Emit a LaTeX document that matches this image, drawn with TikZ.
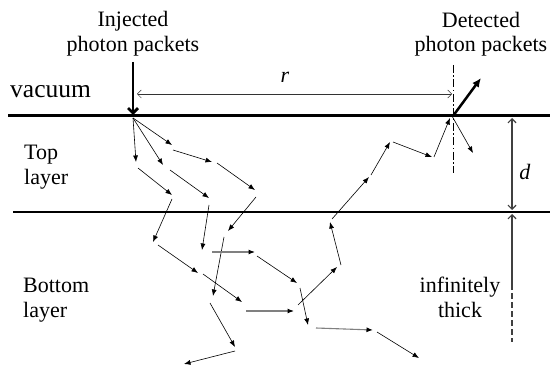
\documentclass[tikz,border=0pt]{standalone}
\usepackage{fontspec}
\setmainfont{Liberation Serif}
\usetikzlibrary{arrows.meta}
\begin{document}
\begin{tikzpicture}[x=1pt,y=-1pt,
  font=\fontsize{22}{25}\selectfont,
  ph/.style={line width=0.6pt, -{Latex[length=6.5pt,width=5pt]}},
  phg/.style={line width=1.1pt, draw=black!50, -{Latex[length=6.5pt,width=5pt,color=black]}},
  lbl/.style={inner sep=0pt, anchor=base},
  barb/.tip={Straight Barb[length=4pt,width=8pt]}]
\useasboundingbox (0,0) rectangle (550,369);

% surfaces
\draw[line width=3pt] (8,116) -- (550,116);
\draw[line width=1.2pt] (13,212) -- (550,212);

% labels
\node[lbl] (inj1) at (133,27) {Injected};
\node[lbl] (inj2) at (133,52) {photon packets};
\node[lbl] (det1) at (481,28) {Detected};
\node[lbl] (det2) at (481,52) {photon packets};
\node[lbl, anchor=base west, font=\fontsize{25.5}{28}\selectfont] (vac) at (10,98) {vacuum};
\node[lbl, anchor=base west] (top1) at (24,160) {Top};
\node[lbl, anchor=base west] (top2) at (24,185) {layer};
\node[lbl, anchor=base west] (bot1) at (23,292) {Bottom};
\node[lbl, anchor=base west] (bot2) at (23,317) {layer};
\node[lbl] (inf1) at (460,292) {infinitely};
\node[lbl] (inf2) at (460,317) {thick};
\node[lbl] (rl) at (285,83) {\textit{r}};
\node[lbl] (dl) at (525,179) {\textit{d}};

% injection and detection
\draw[line width=2.8pt, -{Straight Barb[length=5pt,width=10pt]}] (133,62) -- (133,115);
\draw[line width=2.5pt, -{Latex[length=9pt,width=8pt]}] (453,116) -- (481,78);
\draw[line width=1pt, dash pattern=on 8pt off 2.5pt on 1.5pt off 2.5pt] (453,65) -- (453,173);

% r and d
\draw[line width=0.5pt, draw=black!80, barb-barb] (137,94) -- (452,94);
\draw[line width=1.2pt, draw=black!75, barb-barb] (512,118) -- (512,210);
\draw[line width=1.2pt, draw=black!75, barb-] (512,214) -- (512,290);
\draw[line width=1.2pt, draw=black!75, dash pattern=on 6pt off 3pt] (512,293) -- (512,342);

% photon paths
\foreach \a/\b in {
  {133,118}/{136,162}, {133,118}/{163,165}, {133,118}/{172,145},
  {173,150}/{212,162}, {217,163}/{255,190}, {138,168}/{172,195},
  {170,170}/{209,198}, {172,199}/{153,242}, {209,205}/{202,250},
  {256,197}/{228,231}, {158,245}/{198,273}, {257,256}/{297,283},
  {224,237}/{213,296}, {203,274}/{242,302}, {210,303}/{235,347},
  {235,351}/{184,364}, {300,288}/{308,325}, {377,332}/{419,358},
  {298,305}/{337,267}, {341,265}/{330,222}, {332,219}/{369,177},
  {371,175}/{390,142}, {393,142}/{432,157}, {434,157}/{450,118},
  {452,116}/{473,153}}
  \draw[ph] (\a) -- (\b);
\foreach \a/\b in {{212,252}/{255,252}, {246,311}/{294,311}, {316,328}/{373,330}}
  \draw[phg] (\a) -- (\b);
\end{tikzpicture}
\end{document}
